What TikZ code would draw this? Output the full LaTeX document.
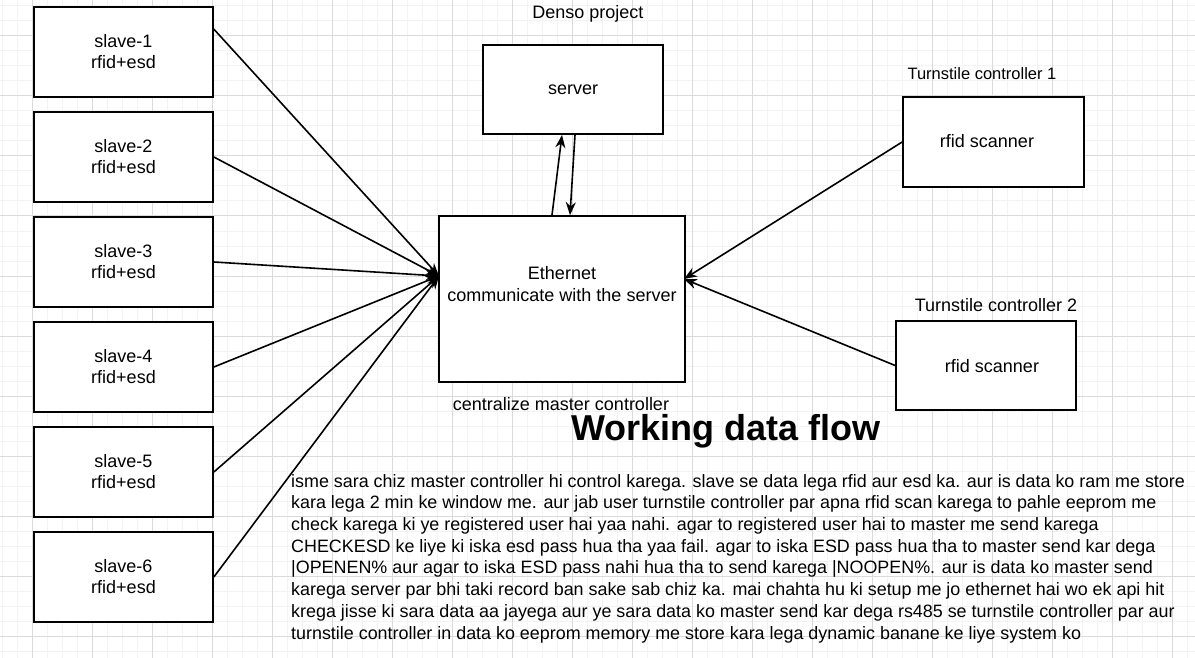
\documentclass[tikz,border=0pt]{standalone}
\usepackage{fontspec}
\setmainfont{Liberation Sans}
\usetikzlibrary{arrows.meta,calc}
\definecolor{gridminor}{HTML}{F3F3F3}
\definecolor{gridmajor}{HTML}{DADADA}

\begin{document}
\begin{tikzpicture}[x=1pt,y=-1pt,
		box/.style={draw=black, line width=1.7pt, fill=white, align=center, font=\fontsize{18}{21}\selectfont},
		flow/.style={line width=1.6pt, -{Stealth[length=13pt,width=10pt]}},
		txt/.style={font=\fontsize{18}{21.7}\selectfont, inner sep=0pt}]
		\useasboundingbox (0,0) rectangle (1195,658);
		% Grid
		\fill[white] (0,0) rectangle (1195,658);
		\foreach \gx in {2,17,...,1195} \draw[gridminor, line width=1pt] (\gx,0) -- (\gx,658);
		\foreach \gy in {6,21,...,658} \draw[gridminor, line width=1pt] (0,\gy) -- (1195,\gy);
		\foreach \gx in {32,92,...,1195} \draw[gridmajor, line width=1pt] (\gx,0) -- (\gx,658);
		\foreach \gy in {36,96,...,658} \draw[gridmajor, line width=1pt] (0,\gy) -- (1195,\gy);
		% Boxes
		\foreach \i in {1,...,6}
			\node[box, minimum width=179, minimum height=90] (slave\i) at (123.5,{52+105*(\i-1)}) {slave-\i\\rfid+esd};
		\node[box, minimum width=180, minimum height=89] (server) at (573,89.5) {server};
		\node[box, minimum width=246, minimum height=166] (master) at (562,299) {};
		\node[txt, align=center] (ethernet) at (562,284) {Ethernet\\communicate with the server};
		\node[box, minimum width=181, minimum height=90] (tc1) at (993.5,142) {};
		\node[txt] (tc1txt) at (987,141) {rfid scanner};
		\node[box, minimum width=180, minimum height=89] (tc2) at (986,365.5) {};
		\node[txt] (tc2txt) at (992,366) {rfid scanner};
		% Labels
		\node[txt] (denso) at (588,14) {Denso project};
		\node[txt] (centralize) at (561,404) {centralize master controller};
		\node[txt, font=\fontsize{16.5}{20}\selectfont] (tc1label) at (982,74) {Turnstile controller 1};
		\node[txt] (tc2label) at (996,305) {Turnstile controller 2};
		% Arrows
		\coordinate (hubL) at (439,276);
		\coordinate (hubR) at (684,279);
		\draw[flow] ($(slave1.north east)+(0,23)$) -- (hubL);
		\foreach \i in {2,...,6} \draw[flow] (slave\i.east) -- (hubL);
		\draw[flow] (tc1.west) -- (hubR);
		\draw[flow] (tc2.west) -- (hubR);
		\draw[flow] ($(master.north)+(-10,0)$) -- ($(server.south)+(-11,0)$);
		\draw[flow] ($(server.south)+(2,0)$) -- ($(master.north)+(8,0)$);
		% Text
		\node[font=\bfseries\fontsize{36}{40}\selectfont, inner sep=0pt, anchor=base] (title) at (726,440) {Working data flow};
		\node[txt, font=\fontsize{17.9}{21.7}\selectfont, align=left, anchor=north west] (notes) at (291,474) {isme sara chiz master controller hi control karega. slave se data lega rfid aur esd ka. aur is data ko ram me store\\
kara lega 2 min ke window me. aur jab user turnstile controller par apna rfid scan karega to pahle eeprom me\\
check karega ki ye registered user hai yaa nahi. agar to registered user hai to master me send karega\\
CHECKESD ke liye ki iska esd pass hua tha yaa fail. agar to iska ESD pass hua tha to master send kar dega\\
|OPENEN\% aur agar to iska ESD pass nahi hua tha to send karega |NOOPEN\%. aur is data ko master send\\
karega server par bhi taki record ban sake sab chiz ka. mai chahta hu ki setup me jo ethernet hai wo ek api hit\\
krega jisse ki sara data aa jayega aur ye sara data ko master send kar dega rs485 se turnstile controller par aur\\
turnstile controller in data ko eeprom memory me store kara lega dynamic banane ke liye system ko};
	\end{tikzpicture}
\end{document}
